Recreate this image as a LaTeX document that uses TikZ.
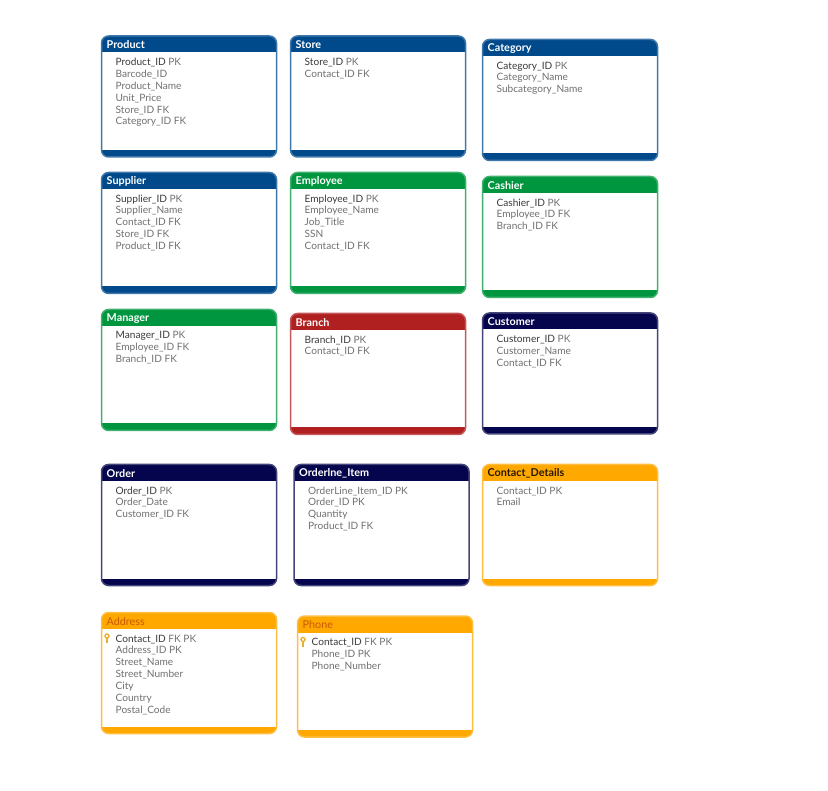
\documentclass[tikz,border=0pt]{standalone}
\usepackage{fontspec}
\setmainfont{Lato}
\usetikzlibrary{positioning,calc}
\definecolor{tblue}{HTML}{004A8C}
\definecolor{tgreen}{HTML}{00963F}
\definecolor{tred}{HTML}{B02020}
\definecolor{tnavy}{HTML}{05054D}
\definecolor{torange}{HTML}{FFA800}
\definecolor{fieldgray}{HTML}{707070}
\definecolor{keydark}{HTML}{3A3A3A}
\definecolor{keygold}{HTML}{E8B030}
\definecolor{titlerust}{HTML}{C85A00}
\newcommand{\kf}[1]{\textcolor{keydark}{#1}}
\begin{document}
\begin{tikzpicture}[x=1pt,y=-1pt,
	tablebox/.style={draw=#1!75!white,fill=white,line width=1.5pt,rounded corners=7pt,
		minimum width=175pt,minimum height=121pt,anchor=north west,outer sep=0pt,inner sep=0pt,
		path picture={\fill[#1,sharp corners] (path picture bounding box.north west) rectangle ([yshift=-16.5pt]path picture bounding box.north east);
			\fill[#1,sharp corners] (path picture bounding box.south west) rectangle ([yshift=7pt]path picture bounding box.south east);}},
	tabletitle/.style={font=\fontsize{10.8}{12}\selectfont\bfseries,text=white,inner sep=0pt,anchor=west},
	fieldlist/.style={font=\fontsize{10.1}{11.85}\selectfont,text=fieldgray,align=left,inner sep=0pt,anchor=north west},
	keyicon/.style={draw=keygold,line width=1.4pt,fill=none}]
	% first row
	\node (Product)  [tablebox=tblue] at (101.5,36) {};
	\node (Store)    [tablebox=tblue] at (290.5,36) {};
	\node (Category) [tablebox=tblue] at (482.5,39.5) {};
	% second row
	\node (Supplier) [tablebox=tblue]  at (101.5,172.5) {};
	\node (Employee) [tablebox=tgreen] at (290.5,172.5) {};
	\node (Cashier)  [tablebox=tgreen] at (482.5,176.5) {};
	% third row
	\node (Manager)  [tablebox=tgreen] at (101.5,309.5) {};
	\node (Branch)   [tablebox=tred]   at (290.5,313.5) {};
	\node (Customer) [tablebox=tnavy]  at (482.5,313) {};
	% fourth row
	\node (Order)     [tablebox=tnavy]   at (101.5,464.5) {};
	\node (OrderItem) [tablebox=tnavy]   at (294,464.5) {};
	\node (Contact)   [tablebox=torange] at (482.5,464.5) {};
	% last row
	\node (Address) [tablebox=torange] at (101.5,612.5) {};
	\node (Phone)   [tablebox=torange] at (297.5,616) {};

	\foreach \tname/\ttext in {Product/Product,Store/Store,Category/Category,Supplier/Supplier,
		Employee/Employee,Cashier/Cashier,Manager/Manager,Branch/Branch,Customer/Customer,
		Order/Order,OrderItem/Orderlne\_Item}
		\node (\tname Title) [tabletitle] at ([xshift=5pt,yshift=-8.8pt]\tname.north west) {\ttext};
	\node (ContactTitle) [tabletitle,text=black!85!torange] at ([xshift=5pt,yshift=-8.8pt]Contact.north west) {Contact\_Details};
	\node (AddressTitle) [tabletitle,font=\fontsize{10.8}{12}\selectfont,text=titlerust] at ([xshift=5pt,yshift=-8.8pt]Address.north west) {Address};
	\node (PhoneTitle)   [tabletitle,font=\fontsize{10.8}{12}\selectfont,text=titlerust] at ([xshift=5pt,yshift=-8.8pt]Phone.north west) {Phone};

	\node (ProductFields) [fieldlist] at ([xshift=14pt,yshift=-22pt]Product.north west)
		{\kf{Product\_ID} PK\\Barcode\_ID\\Product\_Name\\Unit\_Price\\Store\_ID FK\\Category\_ID FK};
	\node (StoreFields) [fieldlist] at ([xshift=14pt,yshift=-22pt]Store.north west)
		{\kf{Store\_ID} PK\\Contact\_ID FK};
	\node (CategoryFields) [fieldlist] at ([xshift=14pt,yshift=-22pt]Category.north west)
		{\kf{Category\_ID} PK\\Category\_Name\\Subcategory\_Name};
	\node (SupplierFields) [fieldlist] at ([xshift=14pt,yshift=-22pt]Supplier.north west)
		{\kf{Supplier\_ID} PK\\Supplier\_Name\\Contact\_ID FK\\Store\_ID FK\\Product\_ID FK};
	\node (EmployeeFields) [fieldlist] at ([xshift=14pt,yshift=-22pt]Employee.north west)
		{\kf{Employee\_ID} PK\\Employee\_Name\\Job\_Title\\SSN\\Contact\_ID FK};
	\node (CashierFields) [fieldlist] at ([xshift=14pt,yshift=-22pt]Cashier.north west)
		{\kf{Cashier\_ID} PK\\Employee\_ID FK\\Branch\_ID FK};
	\node (ManagerFields) [fieldlist] at ([xshift=14pt,yshift=-22pt]Manager.north west)
		{\kf{Manager\_ID} PK\\Employee\_ID FK\\Branch\_ID FK};
	\node (BranchFields) [fieldlist] at ([xshift=14pt,yshift=-22pt]Branch.north west)
		{\kf{Branch\_ID} PK\\Contact\_ID FK};
	\node (CustomerFields) [fieldlist] at ([xshift=14pt,yshift=-22pt]Customer.north west)
		{\kf{Customer\_ID} PK\\Customer\_Name\\Contact\_ID FK};
	\node (OrderFields) [fieldlist] at ([xshift=14pt,yshift=-22pt]Order.north west)
		{\kf{Order\_ID} PK\\Order\_Date\\Customer\_ID FK};
	\node (OrderItemFields) [fieldlist] at ([xshift=14pt,yshift=-22pt]OrderItem.north west)
		{OrderLine\_Item\_ID PK\\Order\_ID PK\\Quantity\\Product\_ID FK};
	\node (ContactFields) [fieldlist] at ([xshift=14pt,yshift=-22pt]Contact.north west)
		{Contact\_ID PK\\Email};
	\node (AddressFields) [fieldlist] at ([xshift=14pt,yshift=-22pt]Address.north west)
		{\kf{Contact\_ID} FK PK\\Address\_ID PK\\Street\_Name\\Street\_Number\\City\\Country\\Postal\_Code};
	\node (PhoneFields) [fieldlist] at ([xshift=14pt,yshift=-22pt]Phone.north west)
		{\kf{Contact\_ID} FK PK\\Phone\_ID PK\\Phone\_Number};

	% key marks
	\foreach \tname in {Address,Phone} {
		\draw[keyicon] ([xshift=5.5pt,yshift=-23.5pt]\tname.north west) circle (2pt);
		\draw[keyicon] ([xshift=5.5pt,yshift=-25.5pt]\tname.north west) -- ++(0,5);
	}
	\useasboundingbox (0,0) rectangle (828,791);
\end{tikzpicture}
\end{document}
